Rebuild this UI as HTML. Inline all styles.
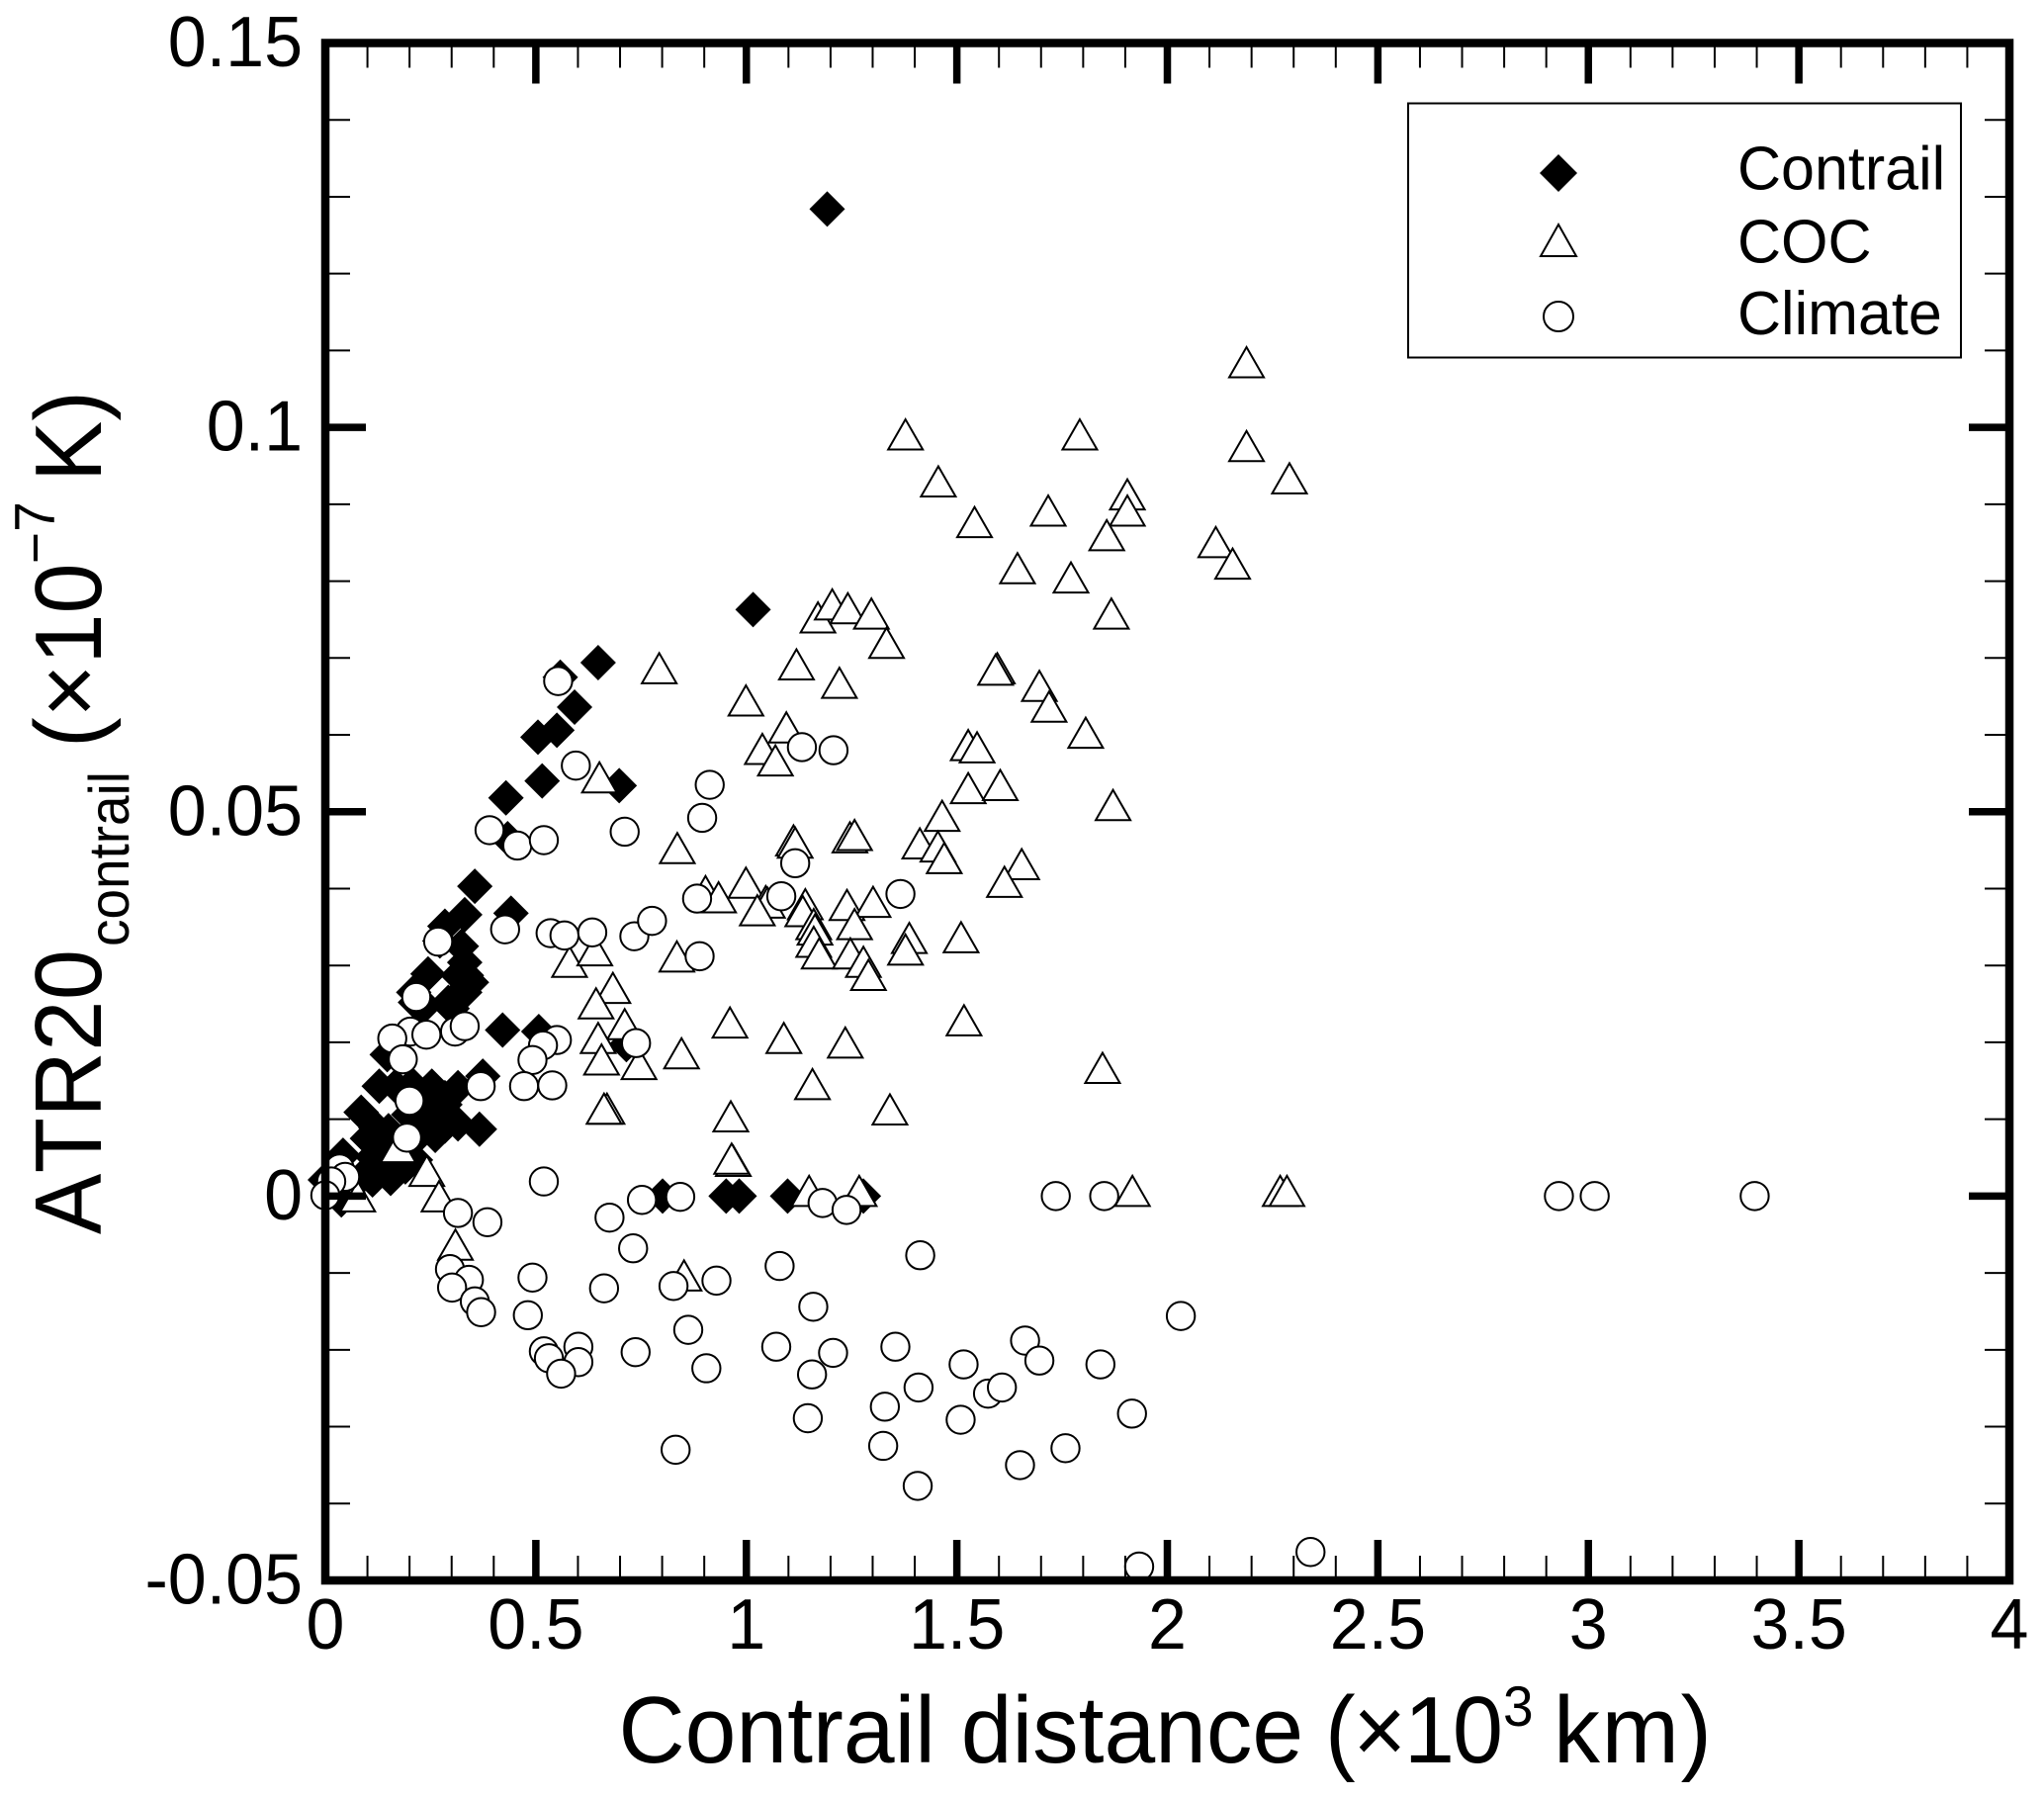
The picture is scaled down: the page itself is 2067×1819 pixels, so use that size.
<!DOCTYPE html>
<html lang="en">
<head>
<meta charset="utf-8">
<title>ATR20 contrail vs contrail distance</title>
<style>
html,body{margin:0;padding:0;background:#fff;}
svg{display:block;}
text{font-family:"Liberation Sans",Arial,sans-serif;fill:#000;font-kerning:none;}
</style>
</head>
<body>
<svg id="chart" xmlns="http://www.w3.org/2000/svg" width="2067" height="1819" viewBox="0 0 2067 1819">
  <rect x="0" y="0" width="2067" height="1819" fill="#fff"/>
  <g id="series-layer"></g>
  <g id="axis-layer"></g>
  <g id="legend">
    <rect x="1424" y="104.5" width="559" height="257" fill="#fff" stroke="#000" stroke-width="2"/>
    <polygon points="1576,156 1595,175 1576,194 1557,175" fill="#000"/>
    <polygon points="1576,227 1594,259 1558,259" fill="#fff" stroke="#000" stroke-width="2"/>
    <ellipse cx="1576" cy="320" rx="15" ry="15" fill="#fff" stroke="#000" stroke-width="2"/>
    <text font-size="61" transform="translate(1757 191.5) scale(1 1.02)">Contrail</text>
    <text font-size="61" transform="translate(1757 265.5) scale(1 1.02)">COC</text>
    <text font-size="61" transform="translate(1757 338) scale(1 1.02)">Climate</text>
  </g>
  <g id="x-axis-title">
    <text font-size="93" transform="translate(625.5 1782) scale(1 1.03)">Contrail distance</text>
    <text font-size="92" textLength="180" transform="translate(1340 1782) scale(1 1.04)">(×10</text>
    <text font-size="55" transform="translate(1520 1745) scale(1 1.04)">3</text>
    <text font-size="94" textLength="160" transform="translate(1571 1782) scale(1 1.02)">km)</text>
  </g>
  <g id="y-axis-title">
    <text font-size="92" textLength="288" transform="translate(102 1248) rotate(-90) scale(1 1.04)">ATR20</text>
    <text font-size="55" textLength="177" transform="translate(130 957) rotate(-90) scale(1 1.04)">contrail</text>
    <text font-size="92" transform="translate(102 756) rotate(-90) scale(1 1.04)">(×10</text>
    <text font-size="55" transform="translate(55 570) rotate(-90) scale(1 1.04)">−7</text>
    <text font-size="92" transform="translate(102 487) rotate(-90) scale(1 1.04)">K)</text>
  </g>
</svg>
<script>
const xTickLabels = ["0","0.5","1","1.5","2","2.5","3","3.5","4"];
const xTickValues = [0,0.5,1,1.5,2,2.5,3,3.5,4];
const yTickLabels = ["-0.05","0","0.05","0.1","0.15"];
const yTickValues = [-0.05,0,0.05,0.1,0.15];

const contrailX = [1.192,1.016,0.648,0.558,0.592,0.550,0.505,0.515,0.429,0.698,0.433,0.355,0.441,0.331,0.284,0.272,0.323,0.331,0.244,0.335,0.335,0.331,0.292,0.210,0.214,0.229,0.421,0.507,0.715,0.374,0.167,0.147,0.128,0.167,0.206,0.253,0.315,0.284,0.206,0.253,0.085,0.315,0.366,0.261,0.261,0.120,0.128,0.042,0.112,0.112,0.155,0.190,0.214,0.085,0.143,0.038,0.000,0.801,0.952,0.983,1.098,1.278,0.315,0.347,0.315,0.301,0.233,0.229,0.284,0.235,0.284,0.198,0.215,0.170,0.135,0.100,0.150];
const contrailY = [0.1284,0.0763,0.0694,0.0675,0.0636,0.0606,0.0597,0.0540,0.0518,0.0534,0.0465,0.0403,0.0368,0.0366,0.0351,0.0332,0.0325,0.0304,0.0289,0.0287,0.0278,0.0265,0.0252,0.0265,0.0252,0.0244,0.0216,0.0214,0.0197,0.0156,0.0201,0.0184,0.0143,0.0143,0.0145,0.0143,0.0141,0.0128,0.0125,0.0119,0.0109,0.0094,0.0087,0.0079,0.0098,0.0089,0.0070,0.0053,0.0051,0.0021,0.0023,0.0038,0.0047,0.0024,0.0034,-0.0005,0.0021,0,0,0,0,0,0.0261,0.0278,0.0287,0.0244,0.0250,0.0098,0.0119,0.0133,0.0091,0.0106,0.0075,0.0055,0.0045,0.0075,0.0085];

const cocX = [2.188,1.378,1.792,2.188,2.290,1.456,1.905,1.905,1.717,1.542,1.856,2.115,2.155,1.644,1.771,1.867,1.170,1.204,1.241,1.297,1.333,1.119,1.221,0.793,1.596,1.592,1.696,1.719,1.806,0.999,1.095,1.038,1.069,1.527,1.548,1.527,1.603,1.871,0.651,1.465,1.412,1.455,1.470,1.654,1.613,0.836,1.112,1.116,1.246,1.257,0.903,0.934,0.999,1.046,1.050,1.026,1.140,1.134,1.160,1.239,1.301,1.257,1.387,1.510,1.378,1.163,1.160,1.173,1.247,1.278,1.290,0.580,0.640,0.835,0.683,0.643,0.711,0.648,0.961,0.846,0.656,0.745,1.517,1.235,1.089,1.157,1.846,1.341,0.963,0.669,0.662,0.969,0.965,0.173,0.241,0.270,0.077,0.309,0.852,1.149,1.268,1.917,2.268,2.284];
const cocY = [0.1078,0.0984,0.0984,0.0969,0.0927,0.0923,0.0906,0.0885,0.0885,0.0870,0.0853,0.0844,0.0816,0.0810,0.0798,0.0751,0.0746,0.0763,0.0758,0.0751,0.0713,0.0685,0.0661,0.0680,0.0680,0.0678,0.0657,0.0630,0.0596,0.0638,0.0603,0.0575,0.0560,0.0580,0.0577,0.0524,0.0528,0.0502,0.0538,0.0488,0.0452,0.0448,0.0433,0.0425,0.0402,0.0446,0.0456,0.0453,0.0460,0.0463,0.0390,0.0382,0.0401,0.0377,0.0375,0.0365,0.0373,0.0364,0.0347,0.0372,0.0376,0.0347,0.0329,0.0330,0.0314,0.0340,0.0324,0.0309,0.0309,0.0298,0.0281,0.0298,0.0313,0.0305,0.0264,0.0244,0.0217,0.0199,0.0219,0.0179,0.0171,0.0165,0.0222,0.0193,0.0199,0.0139,0.0160,0.0106,0.0097,0.0107,0.0107,0.0039,0.0042,0.0057,0.0026,-0.0007,-0.0007,-0.0070,-0.0110,0,0,0,0,0];

const climateX = [1.413,1.159,1.079,2.032,1.071,1.206,1.156,1.354,1.662,1.696,1.516,1.841,1.409,1.574,1.607,1.329,1.146,1.509,1.916,1.325,1.758,1.650,1.407,2.340,1.933,0.519,0.752,0.843,0.675,0.315,0.385,0.731,0.296,0.341,0.301,0.492,0.662,0.827,0.929,0.355,0.370,0.481,0.862,0.519,0.531,0.601,0.601,0.560,0.737,0.905,0.832,1.181,1.238,1.735,1.850,2.930,3.015,3.395,0.553,0.595,0.390,0.456,0.519,0.711,0.913,0.895,0.883,1.083,0.268,0.427,0.535,0.568,0.634,0.734,0.776,0.889,1.132,1.207,1.116,1.366,0.216,0.202,0.159,0.240,0.308,0.331,0.550,0.517,0.492,0.738,0.184,0.369,0.472,0.539,0.200,0.194,0.034,0.047,0.014,0.000];
const climateY = [-0.0077,-0.0144,-0.0091,-0.0156,-0.0196,-0.0204,-0.0232,-0.0196,-0.0188,-0.0214,-0.0219,-0.0219,-0.0249,-0.0257,-0.0249,-0.0274,-0.0289,-0.0291,-0.0283,-0.0325,-0.0328,-0.0350,-0.0377,-0.0463,-0.0482,0.0019,-0.0005,-0.0001,-0.0028,-0.0022,-0.0034,-0.0068,-0.0095,-0.0109,-0.0119,-0.0106,-0.0120,-0.0117,-0.0110,-0.0137,-0.0151,-0.0155,-0.0174,-0.0202,-0.0211,-0.0196,-0.0216,-0.0231,-0.0203,-0.0224,-0.0330,-0.0009,-0.0018,0,0,0,0,0,0.0670,0.0560,0.0476,0.0456,0.0463,0.0474,0.0535,0.0492,0.0387,0.0390,0.0331,0.0347,0.0342,0.0339,0.0343,0.0338,0.0358,0.0312,0.0584,0.0580,0.0433,0.0393,0.0259,0.0214,0.0205,0.0210,0.0214,0.0221,0.0203,0.0196,0.0177,0.0199,0.0178,0.0143,0.0143,0.0144,0.0124,0.0076,0.0036,0.0025,0.0019,0.0001];

const SVG_NS = "http://www.w3.org/2000/svg";
const plotLeft = 329, plotRight = 2032, plotTop = 43.5, plotBottom = 1598;
const xMin = 0, xMax = 4, yMin = -0.05, yMax = 0.15;

function xScale(v){ return plotLeft + (v - xMin) / (xMax - xMin) * (plotRight - plotLeft); }
function yScale(v){ return plotBottom - (v - yMin) / (yMax - yMin) * (plotBottom - plotTop); }

const seriesLayer = document.getElementById("series-layer");
const axisLayer = document.getElementById("axis-layer");

function make(tag, attrs, parent){
  const el = document.createElementNS(SVG_NS, tag);
  for (const k in attrs) el.setAttribute(k, attrs[k]);
  parent.appendChild(el);
  return el;
}

contrailX.forEach(function(v, i){
  const cx = xScale(v), cy = yScale(contrailY[i]);
  const pts = [cx, cy-18, cx+18, cy, cx, cy+18, cx-18, cy].join(" ");
  const el = make("polygon", {points: pts, fill: "#000"}, seriesLayer);
  
  
});

cocX.forEach(function(v, i){
  const cx = xScale(v), cy = yScale(cocY[i]);
  const pts = [cx, cy-20.5, cx+17.5, cy+10, cx-17.5, cy+10].join(" ");
  const el = make("polygon", {points: pts, fill: "#fff", stroke: "#000", "stroke-width": 2}, seriesLayer);
  
  
});

climateX.forEach(function(v, i){
  const el = make("circle", {cx: xScale(v), cy: yScale(climateY[i]), r: 14.2, fill: "#fff", stroke: "#000", "stroke-width": 2}, seriesLayer);
  
  
});

for (let k = 0; k <= 40; k++) {
  if (k % 5 === 0 && (k === 0 || k === 40)) continue;
  const major = k % 5 === 0;
  const x = xScale(k / 10);
  const len = major ? 41 : 25;
  const w = major ? 7.5 : 2;
  const bottomTick = make("line", {x1: x, x2: x, y1: plotBottom, y2: plotBottom - len, stroke: "#000", "stroke-width": w}, axisLayer);
  
  
  const topTick = make("line", {x1: x, x2: x, y1: plotTop, y2: plotTop + len, stroke: "#000", "stroke-width": w}, axisLayer);
  
  
}

for (let k = 0; k <= 20; k++) {
  if (k === 0 || k === 20) continue;
  const major = k % 5 === 0;
  const y = yScale(-0.05 + k / 100);
  const len = major ? 41 : 25;
  const w = major ? 7.5 : 2;
  const leftTick = make("line", {x1: plotLeft, x2: plotLeft + len, y1: y, y2: y, stroke: "#000", "stroke-width": w}, axisLayer);
  
  
  const rightTick = make("line", {x1: plotRight, x2: plotRight - len, y1: y, y2: y, stroke: "#000", "stroke-width": w}, axisLayer);
  
  
}

const frame = make("rect", {x: plotLeft, y: plotTop, width: plotRight - plotLeft, height: plotBottom - plotTop, fill: "none", stroke: "#000", "stroke-width": 8.5}, axisLayer);



xTickValues.forEach(function(v, i){
  const t = make("text", {"font-size": 70, "text-anchor": "middle", transform: "translate(" + xScale(v) + " 1667) scale(1 1.03)"}, axisLayer);
  t.textContent = xTickLabels[i];
  
  
});

yTickValues.forEach(function(v, i){
  const t = make("text", {"font-size": 70, "text-anchor": "end", transform: "translate(306 " + (yScale(v) + 23.5) + ") scale(1 1.03)"}, axisLayer);
  t.textContent = yTickLabels[i];
  
  
});
</script>
</body>
</html>
